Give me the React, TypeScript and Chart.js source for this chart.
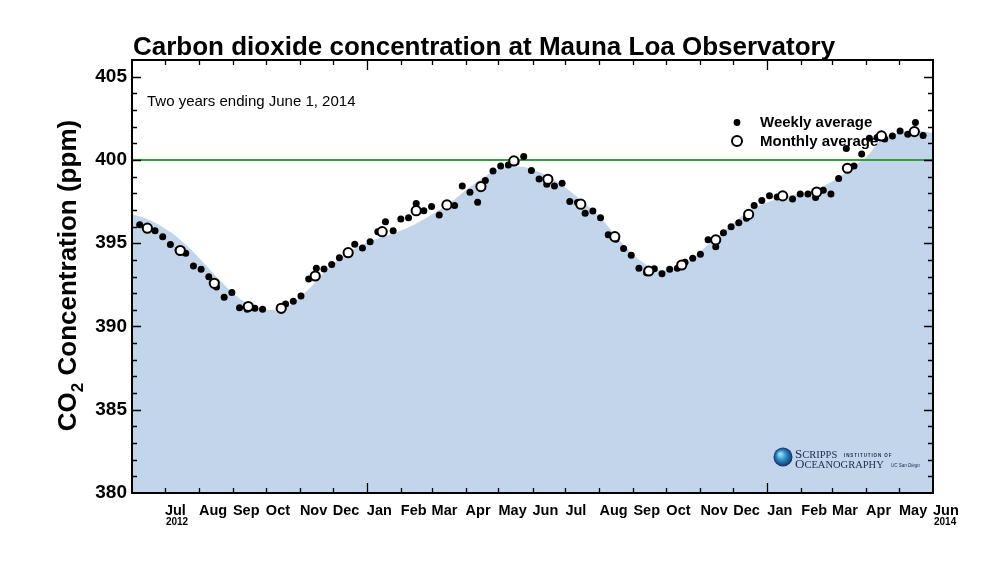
import React, { useEffect, useRef } from "react";
import { Chart, registerables } from "chart.js";

Chart.register(...registerables);

// ---------- text ----------
const TITLE = "Carbon dioxide concentration at Mauna Loa Observatory";
const SUBTITLE = "Two years ending June 1, 2014";
const LEGEND_WEEKLY = "Weekly average";
const LEGEND_MONTHLY = "Monthly average";

// ---------- axes ----------
// x values are days since June 1, 2012; range is two years (to June 1, 2014)
const X_MIN = 0;
const X_MAX = 730;
const Y_MIN = 380;
const Y_MAX = 406;
const yTicks = [380, 385, 390, 395, 400, 405];
const monthLabels = [
  "Jul", "Aug", "Sep", "Oct", "Nov", "Dec", "Jan", "Feb", "Mar", "Apr", "May", "Jun",
  "Jul", "Aug", "Sep", "Oct", "Nov", "Dec", "Jan", "Feb", "Mar", "Apr", "May", "Jun",
];
// month-start dates (year, monthIndex) for each label
const monthStarts: [number, number][] = [
  [2012, 6], [2012, 7], [2012, 8], [2012, 9], [2012, 10], [2012, 11],
  [2013, 0], [2013, 1], [2013, 2], [2013, 3], [2013, 4], [2013, 5],
  [2013, 6], [2013, 7], [2013, 8], [2013, 9], [2013, 10], [2013, 11],
  [2014, 0], [2014, 1], [2014, 2], [2014, 3], [2014, 4], [2014, 5],
];
const yearLabels = [
  { label: "2012", index: 0 },
  { label: "2014", index: 23 },
];
const REF_LEVEL = 400;

// ---------- data ----------
const weeklyDay = [
  7, 14, 21, 28, 35, 42, 49, 56, 63, 70, 77, 84, 91, 98, 105, 112, 119,
  140, 147, 154, 161, 168, 175, 182, 189, 196, 203, 210, 217, 224, 231, 238,
  245, 252, 259, 266, 273, 280, 287, 294, 301, 308, 315, 322, 329, 336, 343,
  350, 357, 364, 371, 378, 385, 392, 399, 406, 413, 420, 427, 434, 441, 448,
  455, 462, 469, 476, 483, 490, 497, 504, 511, 518, 525, 532, 539, 546, 553,
  560, 567, 574, 581, 588, 602, 609, 616, 623, 630, 637, 644, 651, 658, 665,
  672, 679, 686, 693, 700, 707, 714, 721,
];
const weeklyCO2 = [
  396.10, 395.98, 395.75, 395.39, 394.92, 394.59, 394.40, 393.63, 393.44, 392.99, 392.37, 391.75, 392.04, 391.12, 391.03, 391.09, 391.04,
  391.35, 391.52, 391.83, 392.85, 393.50, 393.45, 393.72, 394.13, 394.50, 394.94, 394.71, 395.09, 395.68, 396.29, 395.74,
  396.46, 396.53, 397.38, 396.95, 397.20, 396.70, 397.30, 397.26, 398.44, 398.06, 397.46, 398.77, 399.34, 399.64, 399.70,
  399.88, 400.20, 399.36, 398.86, 398.54, 398.44, 398.60, 397.50, 397.44, 396.80, 396.94, 396.53, 395.50, 395.23, 394.68,
  394.28, 393.50, 393.23, 393.47, 393.17, 393.44, 393.50, 393.86, 394.10, 394.34, 395.20, 394.79, 395.63, 395.99, 396.23,
  396.50, 397.27, 397.56, 397.85, 397.78, 397.66, 397.95, 397.95, 397.74, 398.18, 397.95, 398.89, 400.69, 399.64, 400.35,
  401.30, 401.34, 401.26, 401.44, 401.74, 401.54, 402.24, 401.46,
];

const monthlyDay = [
  14, 44, 75, 106, 136, 167, 197, 228, 259, 287, 318, 348,
  379, 409, 440, 471, 501, 532, 562, 593, 624, 652, 683, 713,
];
const monthlyCO2 = [
  395.90, 394.56, 392.59, 391.20, 391.09, 393.03, 394.43, 395.69, 396.95, 397.30, 398.40, 399.94,
  398.84, 397.34, 395.39, 393.33, 393.69, 395.20, 396.73, 397.84, 398.07, 399.50, 401.44, 401.70,
];

// smooth fitted curve (shaded area)
const curveDay = [
  0, 16, 36, 55, 73, 89, 107, 126, 144, 162, 180, 198, 216, 235, 253, 271, 289,
  307, 326, 340, 353, 371, 389, 407, 426, 444, 462, 476, 486, 505, 523, 544, 562,
  580, 598, 616, 630, 646, 662, 671, 683, 696, 714, 730,
];
const curveCO2 = [
  396.76, 396.40, 395.62, 394.53, 393.27, 392.19, 391.29, 390.99, 391.29, 392.31, 393.57, 394.47, 395.08, 395.50, 395.98, 396.64, 397.39,
  398.32, 399.19, 399.58, 399.61, 399.28, 398.62, 397.72, 396.61, 395.20, 394.00, 393.48, 393.39, 393.78, 394.80, 395.98, 396.94,
  397.48, 397.84, 398.08, 398.44, 399.04, 399.82, 400.30, 401.26, 401.59, 401.77, 401.62,
];

// ---------- style ----------
const SANS = "'Liberation Sans', Arial, Helvetica, sans-serif";
const SERIF = "'Liberation Serif', 'DejaVu Serif', serif";
const FILL = "#c3d5ea";
const GREEN = "#3a9a3f";
const START_UTC = Date.UTC(2012, 5, 1);
const monthTickDays = monthStarts.map(([yy, mm]) => Math.round((Date.UTC(yy, mm, 1) - START_UTC) / 86400000));

const decor = {
  id: "decor",
  afterDatasetDraw(chart: any, args: any) {
    if (args.index !== 0) return;
    const { ctx, chartArea: a, scales } = chart;
    const y = scales.y;
    ctx.save();
    // reference line at 400 ppm
    const yr = y.getPixelForValue(REF_LEVEL);
    ctx.strokeStyle = GREEN;
    ctx.lineWidth = 2;
    ctx.beginPath();
    ctx.moveTo(a.left, yr);
    ctx.lineTo(a.right, yr);
    ctx.stroke();
    // legend
    ctx.fillStyle = "#000";
    ctx.beginPath();
    ctx.arc(737, 122.5, 3.4, 0, Math.PI * 2);
    ctx.fill();
    ctx.beginPath();
    ctx.arc(737, 141, 5, 0, Math.PI * 2);
    ctx.fillStyle = "#fff";
    ctx.fill();
    ctx.lineWidth = 2;
    ctx.strokeStyle = "#000";
    ctx.stroke();
    ctx.fillStyle = "#000";
    ctx.font = `bold 15px ${SANS}`;
    ctx.textBaseline = "middle";
    ctx.textAlign = "left";
    ctx.fillText(LEGEND_WEEKLY, 760, 123);
    ctx.fillText(LEGEND_MONTHLY, 760, 141.5);
    ctx.restore();
  },
  afterDraw(chart: any) {
    const { ctx, chartArea: a, scales } = chart;
    const x = scales.x;
    const y = scales.y;
    ctx.save();
    // frame
    ctx.strokeStyle = "#000";
    ctx.lineWidth = 2;
    ctx.strokeRect(a.left, a.top, a.right - a.left, a.bottom - a.top);
    // y tick marks (inward, left & right)
    ctx.lineWidth = 1.3;
    ctx.beginPath();
    for (let v = Y_MIN + 1; v < Y_MAX; v++) {
      const py = Math.round(y.getPixelForValue(v)) + 0.5;
      const len = v % 5 === 0 ? 9 : 5;
      ctx.moveTo(a.left, py);
      ctx.lineTo(a.left + len, py);
      ctx.moveTo(a.right, py);
      ctx.lineTo(a.right - len, py);
    }
    // x tick marks (inward, bottom & top)
    monthTickDays.forEach((d, i) => {
      if (d >= X_MAX) return;
      const px = Math.round(x.getPixelForValue(d)) + 0.5;
      const len = monthLabels[i] === "Jan" ? 10 : 5;
      ctx.moveTo(px, a.bottom);
      ctx.lineTo(px, a.bottom - len);
      ctx.moveTo(px, a.top);
      ctx.lineTo(px, a.top + len);
    });
    ctx.stroke();

    // year labels
    ctx.fillStyle = "#000";
    ctx.font = `bold 10px ${SANS}`;
    ctx.textAlign = "left";
    ctx.textBaseline = "alphabetic";
    yearLabels.forEach(({ label, index }) => {
      ctx.fillText(label, x.getPixelForValue(monthTickDays[index]) + 1, 524.5);
    });

    // title & subtitle
    ctx.font = `bold 26px ${SANS}`;
    ctx.fillText(TITLE, 133, 55);
    ctx.font = `15px ${SANS}`;
    ctx.fillText(SUBTITLE, 147, 106);

    // y axis title with subscript
    const cy = (a.top + a.bottom) / 2 - 1;
    ctx.save();
    ctx.translate(76, cy);
    ctx.rotate(-Math.PI / 2);
    const big = `bold 26px ${SANS}`;
    const sub = `bold 17px ${SANS}`;
    ctx.font = big;
    const w1 = ctx.measureText("CO").width;
    const w3 = ctx.measureText(" Concentration (ppm)").width;
    ctx.font = sub;
    const w2 = ctx.measureText("2").width;
    let sx = -(w1 + w2 + w3) / 2;
    ctx.font = big;
    ctx.fillText("CO", sx, 0);
    sx += w1;
    ctx.font = sub;
    ctx.fillText("2", sx, 7);
    sx += w2;
    ctx.font = big;
    ctx.fillText(" Concentration (ppm)", sx, 0);
    ctx.restore();

    // Scripps logo
    const gx = 783, gy = 457;
    const g = ctx.createRadialGradient(gx - 3, gy - 3, 1, gx, gy, 9.5);
    g.addColorStop(0, "#8fe0f0");
    g.addColorStop(0.45, "#2f8fc8");
    g.addColorStop(1, "#152f6e");
    ctx.fillStyle = g;
    ctx.beginPath();
    ctx.arc(gx, gy, 9.5, 0, Math.PI * 2);
    ctx.fill();
    ctx.fillStyle = "#1c2a50";
    ctx.font = `13px ${SERIF}`;
    ctx.fillText("S", 795, 457.5);
    let lw = ctx.measureText("S").width;
    ctx.font = `10.5px ${SERIF}`;
    ctx.fillText("CRIPPS", 795 + lw, 457.5);
    ctx.font = `bold 4.5px ${SANS}`;
    (ctx as any).letterSpacing = "0.9px";
    ctx.fillText("INSTITUTION OF", 844, 456.5);
    (ctx as any).letterSpacing = "0px";
    ctx.font = `13px ${SERIF}`;
    ctx.fillText("O", 795, 467.5);
    lw = ctx.measureText("O").width;
    ctx.font = `10.5px ${SERIF}`;
    ctx.fillText("CEANOGRAPHY", 795 + lw, 467.5);
    ctx.font = `italic 4.5px ${SANS}`;
    ctx.fillText("UC San Diego", 891, 467);
    ctx.restore();
  },
};

export default function App() {
  const ref = useRef<HTMLCanvasElement>(null);
  useEffect(() => {
    const canvas = ref.current;
    if (!canvas) return;
    const chart = new Chart(canvas, {
      type: "scatter",
      data: {
        datasets: [
          {
            type: "line",
            label: "fit",
            data: curveDay.map((d, i) => ({ x: d, y: curveCO2[i] })),
            fill: "start",
            backgroundColor: FILL,
            borderColor: "rgba(0,0,0,0)",
            borderWidth: 0,
            pointRadius: 0,
            cubicInterpolationMode: "monotone",
            order: 3,
          } as any,
          {
            label: LEGEND_WEEKLY,
            data: weeklyDay.map((d, i) => ({ x: d, y: weeklyCO2[i] })),
            backgroundColor: "#000",
            borderWidth: 0,
            pointRadius: 3.5,
            order: 2,
          },
          {
            label: LEGEND_MONTHLY,
            data: monthlyDay.map((d, i) => ({ x: d, y: monthlyCO2[i] })),
            backgroundColor: "#fff",
            borderColor: "#000",
            borderWidth: 2,
            pointRadius: 4.6,
            order: 1,
          },
        ],
      },
      options: {
        responsive: false,
        animation: false,
        events: [],
        layout: { padding: { left: 0, top: 60, right: 67, bottom: 0 } },
        plugins: { legend: { display: false }, tooltip: { enabled: false } },
        scales: {
          x: {
            type: "linear",
            min: X_MIN,
            max: X_MAX,
            grid: { display: false, drawTicks: false },
            border: { display: false },
            afterBuildTicks: (s: any) => {
              s.ticks = monthTickDays.map((v) => ({ value: v }));
            },
            afterFit: (s: any) => {
              s.height = 77;
            },
            ticks: {
              autoSkip: false,
              maxRotation: 0,
              minRotation: 0,
              align: "start",
              padding: 9,
              color: "#000",
              font: { family: SANS, size: 14.5, weight: "bold" },
              callback: (_v: any, i: number) => monthLabels[i],
            },
          },
          y: {
            type: "linear",
            min: Y_MIN,
            max: Y_MAX,
            grid: { display: false, drawTicks: false },
            border: { display: false },
            afterBuildTicks: (s: any) => {
              s.ticks = yTicks.map((v) => ({ value: v }));
            },
            afterFit: (s: any) => {
              s.width = 132;
            },
            ticks: {
              padding: 5,
              color: "#000",
              font: { family: SANS, size: 19, weight: "bold" },
            },
          },
        },
      },
      plugins: [decor],
    });
    return () => chart.destroy();
  }, []);
  return (
    <div style={{ position: "fixed", left: 0, top: 0, width: 1000, height: 570, background: "#fff" }}>
      <canvas ref={ref} width={1000} height={570} />
    </div>
  );
}
